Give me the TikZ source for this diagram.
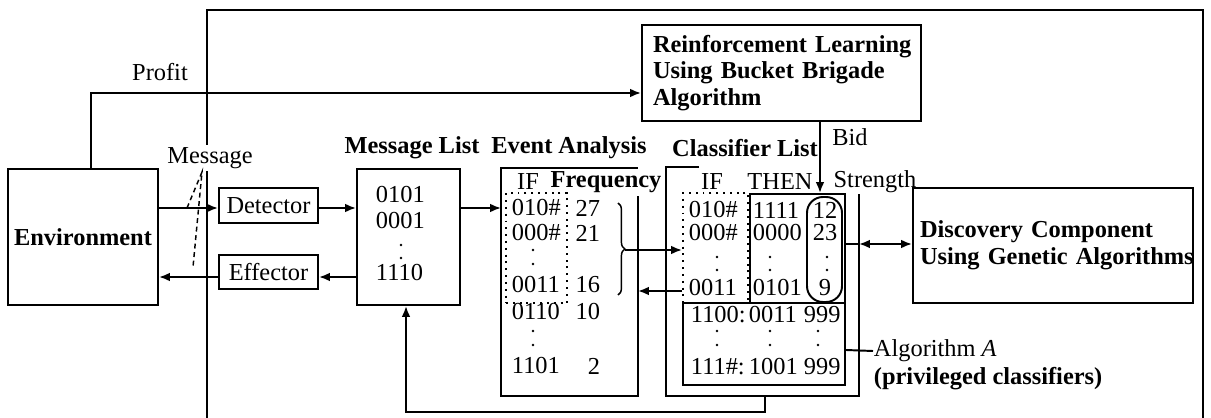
\documentclass[tikz,border=0pt]{standalone}
\usepackage{fontspec}
\setmainfont{Liberation Serif}
\usetikzlibrary{arrows.meta,decorations.pathreplacing}
\newcommand\pxu{0.41pt}

\begin{document}
\begin{tikzpicture}[x=0.41pt,y=-0.41pt,line width=0.8pt,
		font=\fontsize{10}{10.9}\selectfont,
		box/.style={draw,inner sep=0pt},
		hole/.style={inner sep=0pt},
		lbl/.style={inner sep=0pt},
		bold/.style={font=\fontsize{10}{10.9}\selectfont\bfseries},
		arr/.style={-{Latex[length=4.5pt,width=3.6pt]}},
		arrs/.style={{Latex[length=4.5pt,width=3.6pt]}-{Latex[length=4.5pt,width=3.6pt]}}]
	\useasboundingbox (0,0) rectangle (1211,418);
	% helper heights and columns
	\coordinate (yin) at (0,208);
	\coordinate (yout) at (0,277);
	\coordinate (ypro) at (0,93);
	\coordinate (xpro) at (91,0);
	\coordinate (xbid) at (820,0);
	\coordinate (ygen) at (0,244);
	\coordinate (yalg) at (0,350);
	\coordinate (yret) at (0,291);
	\coordinate (xfb) at (765,0);
	\coordinate (xml) at (406,0);
	\coordinate (yfb) at (0,412);

	% outer frame
	\draw (207,418) -- (207,10) -- (1203,10) -- (1203,418);

	% boxes
	\node [box,bold,minimum width={150*\pxu},minimum height={136*\pxu}] (env) at (83,237) {Environment};
	\node [box,bold,align=left,text width={257*\pxu},inner xsep={11*\pxu},minimum height={96*\pxu}] (rl) at (781.5,73)
		{\mbox{Reinforcement Learning}\\\mbox{Using Bucket Brigade}\\\mbox{Algorithm}};
	\node [box,minimum width={99*\pxu},minimum height={35*\pxu}] (det) at (268.5,205.5) {Detector};
	\node [box,minimum width={99*\pxu},minimum height={34*\pxu}] (eff) at (268.5,272) {Effector};
	\node [box,minimum width={103*\pxu},minimum height={136*\pxu}] (ml) at (408.5,237) {};
	\node [hole,minimum width={135*\pxu},minimum height={226*\pxu}] (ev) at (569.5,282) {};
	\node [hole,minimum width={191*\pxu},minimum height={227*\pxu}] (cl) at (762.5,281.5) {};
	\node [box,minimum width={95*\pxu},minimum height={109*\pxu}] (then) at (797.5,248.5) {};
	\node [box,minimum width={162*\pxu},minimum height={82*\pxu}] (priv) at (764,344) {};
	\node [box,dotted,minimum width={65*\pxu},minimum height={110*\pxu}] (ifcol) at (715.5,248) {};
	\node [box,dotted,minimum width={61*\pxu},minimum height={110*\pxu}] (evif) at (536.5,248) {};
	\node [box,rounded corners=6.5pt,minimum width={35*\pxu},minimum height={105*\pxu}] (str) at (824.5,249.5) {};
	\node [box,bold,align=left,text width={266*\pxu},inner xsep={7*\pxu},minimum height={115*\pxu}] (disc) at (1053,245.5)
		{\mbox{Discovery Component}\\\mbox{Using Genetic Algorithms}};

	% open frames of the two lists
	\draw (ev.north east) ++(0,28) -- (ev.south east) -- (ev.south west) -- (ev.north west) -- (ev.north east);
	\draw (cl.north west) ++(33,0) -- (cl.north west) -- (cl.south west) -- (cl.south east) -- ++(0,-202);

	% labels
	\node (prof) at (160,72) {Profit};
	\node [fill=white,inner sep=1pt] (msg) at (210,158) {Message};
	\node [bold] (mlhead) at (412,148) {Message List};
	\node [bold] (evhead) at (569,148) {Event Analysis};
	\node [bold] (clhead) at (745,148) {Classifier List};
	\node (bid) at (850,137) {Bid};
	\node (evif0) at (528,182) {IF};
	\node [bold] (evfr0) at (606,182) {Frequency};
	\node (clif0) at (712,182) {IF};
	\node (clthen0) at (780,182) {THEN};
	\node (clstr0) at (875,182) {Strength};
	\node [lbl,anchor=west] (alg) at (873,351) {Algorithm \textit{A}};
	\node [lbl,bold,anchor=west] (algp) at (873,379) {(privileged classifiers)};

	% message list
	\foreach \n/\y/\t in {1/195/0101, 2/221/0001, 3/273/1110} {
		\node [lbl,anchor=west] (mlrow\n) at (375,\y) {\t};
	}
	% event analysis
	\foreach \n/\y/\a/\b in {1/208/010\#/27, 2/233/000\#/21, 3/285/0011/16, 4/312/0110/10, 5/366/1101/2} {
		\node [lbl,anchor=west] (evif\n) at (511,\y) {\a};
		\node [lbl,anchor=east] (evfr\n) at (601,\y) {\b};
	}
	% classifier list
	\foreach \n/\y/\a/\b/\c in {1/210/010\#/1111/12, 2/233/000\#/0000/23, 3/288/0011/0101/9} {
		\node [lbl,anchor=west] (clif\n) at (688,\y) {\a};
		\node [lbl,anchor=west] (clthen\n) at (752,\y) {\b};
		\node [lbl] (clstr\n) at (825,\y) {\c};
	}
	\foreach \n/\y/\a/\b in {1/315/1100:/0011, 2/367/111\#:/1001} {
		\node [lbl,anchor=west] (pvif\n) at (690,\y) {\a};
		\node [lbl,anchor=west] (pvthen\n) at (748,\y) {\b};
		\node [lbl,anchor=west] (pvstr\n) at (803,\y) {999};
	}
	% dots
	\foreach \x/\y in {401/245, 401/258, 533/250, 533/264, 533/331, 533/345,
			717/257, 770/257, 827/257, 717/270, 770/270, 827/270,
			717/331, 770/331, 818/331, 717/345, 770/345, 818/345} {
		\fill (\x,\y) circle (0.6pt);
	}

	% message dashes
	\coordinate (mtip) at (202,172);
	\coordinate (mend1) at (187,208);
	\coordinate (mend2) at (193,267);
	\draw [line width=0.6pt,dash pattern=on 2pt off 1.5pt] (mend1) -- (mtip) -- (mend2);

	% connectors
	\draw [arr] (env.north -| xpro) |- (rl.west |- ypro);
	\draw [arr] (env.east |- yin) -- (det.west |- yin);
	\draw [arr] (det.east |- yin) -- (ml.west |- yin);
	\draw [arr] (ml.west |- yout) -- (eff.east |- yout);
	\draw [arr] (eff.west |- yout) -- (env.east |- yout);
	\draw [arr] (ml.east |- yin) -- (ev.west |- yin);
	\draw [arr] (rl.south -| xbid) -- (then.north -| xbid);
	\draw [line width=0.6pt,decorate,decoration={brace,amplitude=2.8pt}] (618,203) -- (618,295);
	\coordinate (brtip) at (625,250);
	\draw [arr] (brtip) -- (ifcol.west |- brtip);
	\draw [arr] (ifcol.west |- yret) -- (ev.east |- yret);
	\draw (then.east |- ygen) -- (cl.east |- ygen);
	\draw [arrs] (cl.east |- ygen) -- (disc.west |- ygen);
	\draw (priv.east |- yalg) -- (alg.west);
	\draw [arr] (cl.south -| xfb) -- (xfb |- yfb) -| (ml.south -| xml);
\end{tikzpicture}
\end{document}
